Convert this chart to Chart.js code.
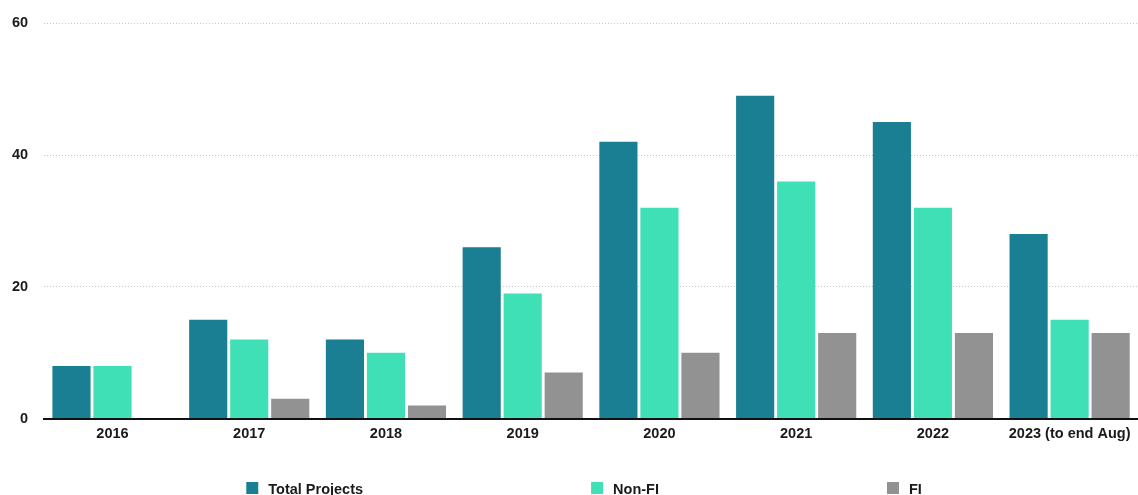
<!DOCTYPE html>
<html>
<head>
<meta charset="utf-8">
<script src="https://cdn.jsdelivr.net/npm/chart.js@4.4.0/dist/chart.umd.min.js"></script>
<style>
  html, body { margin: 0; padding: 0; background: #fff; }
  #wrap { width: 1138px; height: 495px; position: relative; }
</style>
</head>
<body>
<div id="wrap"><canvas id="projectsChart"></canvas></div>
<script>
// datos
const years = ['2016', '2017', '2018', '2019', '2020', '2021', '2022', '2023 (to end Aug)'];
const totalProjects = [8, 15, 12, 26, 42, 49, 45, 28];
const nonFI = [8, 12, 10, 19, 32, 36, 32, 15];
const fi = [null, 3, 2, 7, 10, 13, 13, 13];
const yTicks = [0, 20, 40, 60];

const FONT = '"Liberation Sans", Arial, Helvetica, sans-serif';

// leyenda abajo, items separados con hueco fijo, centrada en el area del grafico
const bottomLegend = {
    id: 'bottomLegend',
    afterDraw(chart) {
        const ctx = chart.ctx;
        const box = 12, gap = 10, spacing = 228;
        ctx.save();
        ctx.font = 'bold 14.5px ' + FONT;
        const items = chart.data.datasets.map(ds => {
            const w = box + gap + ctx.measureText(ds.label).width;
            return { label: ds.label, color: ds.backgroundColor, w: w };
        });
        const total = items.reduce((s, it) => s + it.w, 0) + spacing * (items.length - 1);
        const area = chart.chartArea;
        let x = (area.left + area.right) / 2 - 7 - total / 2;
        const y = 488;
        items.forEach(it => {
            ctx.fillStyle = it.color;
            ctx.fillRect(x, y - 6, box, box);
            ctx.fillStyle = '#1a1a1a';
            ctx.textBaseline = 'middle';
            ctx.textAlign = 'left';
            ctx.fillText(it.label, x + box + gap, y + 2);
            x += it.w + spacing;
        });
        ctx.restore();
    }
};

const ctx = document.getElementById('projectsChart').getContext('2d');
const projectsChart = new Chart(ctx, {
    type: 'bar',
    data: {
        labels: years,
        datasets: [{
            label: 'Total Projects',
            data: totalProjects,
            backgroundColor: '#1a7f93'
        }, {
            label: 'Non-FI',
            data: nonFI,
            backgroundColor: '#40e0b6'
        }, {
            label: 'FI',
            data: fi,
            backgroundColor: '#929292'
        }]
    },
    options: {
        responsive: true,
        maintainAspectRatio: false,
        animation: false,
        layout: {
            padding: { top: 3, left: -4, right: 0, bottom: 45 }
        },
        datasets: {
            bar: {
                categoryPercentage: 0.9,
                barPercentage: 0.93
            }
        },
        plugins: {
            legend: { display: false },
            tooltip: { enabled: false }
        },
        scales: {
            x: {
                grid: { display: false, drawTicks: false },
                border: { display: true, color: '#111', width: 2 },
                ticks: {
                    color: '#1a1a1a',
                    font: { family: FONT, size: 14.5, weight: 'bold' },
                    padding: 7,
                    maxRotation: 0,
                    autoSkip: false
                }
            },
            y: {
                min: 0,
                max: 60,
                afterBuildTicks: axis => {
                    axis.ticks = yTicks.map(v => ({ value: v }));
                },
                grid: { color: '#c8c8c8', lineWidth: 1, drawTicks: false },
                border: { display: false, dash: [1, 2] },
                ticks: {
                    color: '#1a1a1a',
                    font: { family: FONT, size: 14.5, weight: 'bold', lineHeight: 1 },
                    padding: 16
                }
            }
        }
    },
    plugins: [bottomLegend]
});
</script>
</body>
</html>
